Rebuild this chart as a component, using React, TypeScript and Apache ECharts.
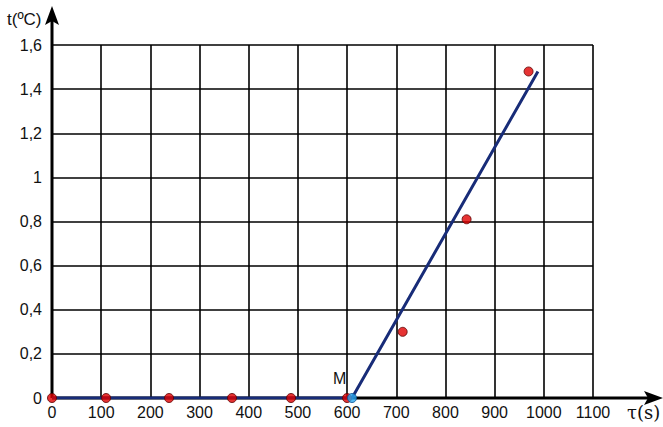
import React, { useEffect, useRef } from "react";
import * as echarts from "echarts";

const xTicks = [0, 100, 200, 300, 400, 500, 600, 700, 800, 900, 1000, 1100];
const yTicks = [0, 0.2, 0.4, 0.6, 0.8, 1, 1.2, 1.4, 1.6];
const measuredTimes = [0, 110, 238, 366, 486, 600, 713, 843, 969];
const measuredTemps = [0, 0, 0, 0, 0, 0, 0.3, 0.81, 1.48];
const fitTimes = [0, 610, 988];
const fitTemps = [0, 0, 1.48];
const pointM = [610, 0];
const xTitle = "τ(s)";
const yTitle = "t(ºC)";

const fmt = (v: number) => String(Number(v.toFixed(1))).replace(".", ",");

export default function App() {
  const ref = useRef<HTMLDivElement>(null);
  useEffect(() => {
    document.body.style.margin = "0";
    const chart = echarts.init(ref.current!, null, { renderer: "svg" });
    const font = "Liberation Sans, Arial, sans-serif";
    chart.setOption({
      animation: false,
      backgroundColor: "#fff",
      grid: { left: 52, right: 70, top: 45, bottom: 29, containLabel: false },
      xAxis: {
        type: "value",
        min: xTicks[0],
        max: xTicks[xTicks.length - 1],
        interval: 100,
        axisLine: { show: false },
        axisTick: { show: false },
        splitLine: { show: true, lineStyle: { color: "#000", width: 1.6 } },
        axisLabel: {
          color: "#111",
          fontSize: 16,
          fontFamily: font,
          margin: 6,
          formatter: (v: number) => String(v),
        },
      },
      yAxis: {
        type: "value",
        min: yTicks[0],
        max: yTicks[yTicks.length - 1],
        interval: 0.2,
        axisLine: { show: false },
        axisTick: { show: false },
        splitLine: { show: true, lineStyle: { color: "#000", width: 1.6 } },
        axisLabel: {
          color: "#111",
          fontSize: 16,
          fontFamily: font,
          margin: 10,
          formatter: fmt,
        },
      },
      graphic: [
        { type: "line", shape: { x1: 52, y1: 398, x2: 655, y2: 398 }, style: { stroke: "#000", lineWidth: 3 }, z: 50 },
        { type: "polygon", shape: { points: [[663, 398], [644, 391], [648, 398], [644, 405]] }, style: { fill: "#000" }, z: 50 },
        { type: "line", shape: { x1: 52, y1: 398, x2: 52, y2: 16 }, style: { stroke: "#000", lineWidth: 3 }, z: 50 },
        { type: "polygon", shape: { points: [[52, 6], [45, 25], [52, 21], [59, 25]] }, style: { fill: "#000" }, z: 50 },
        { type: "text", x: 7, y: 11, style: { text: yTitle, fontSize: 17, fontFamily: font, fill: "#111" }, z: 50 },
        { type: "text", x: 627, y: 403, style: { text: xTitle, fontSize: 18, fontFamily: "DejaVu Serif, serif", fill: "#111" }, z: 50 },
        { type: "text", x: 333, y: 370, style: { text: "M", fontSize: 16, fontFamily: font, fill: "#111" }, z: 50 },
      ],
      series: [
        {
          type: "line",
          data: fitTimes.map((t, i) => [t, fitTemps[i]]),
          symbol: "none",
          lineStyle: { color: "#182c78", width: 3 },
          z: 60,
        },
        {
          type: "scatter",
          data: measuredTimes.map((t, i) => [t, measuredTemps[i]]),
          symbolSize: 9,
          itemStyle: { color: "#e00000", borderColor: "#5a0000", borderWidth: 1 },
          z: 70,
        },
        {
          type: "scatter",
          data: [pointM],
          symbolSize: 9,
          itemStyle: { color: "#2aa8f0", borderColor: "#0a4f90", borderWidth: 1 },
          z: 71,
        },
      ],
    });
    return () => chart.dispose();
  }, []);
  return <div ref={ref} style={{ width: 663, height: 427 }} />;
}
